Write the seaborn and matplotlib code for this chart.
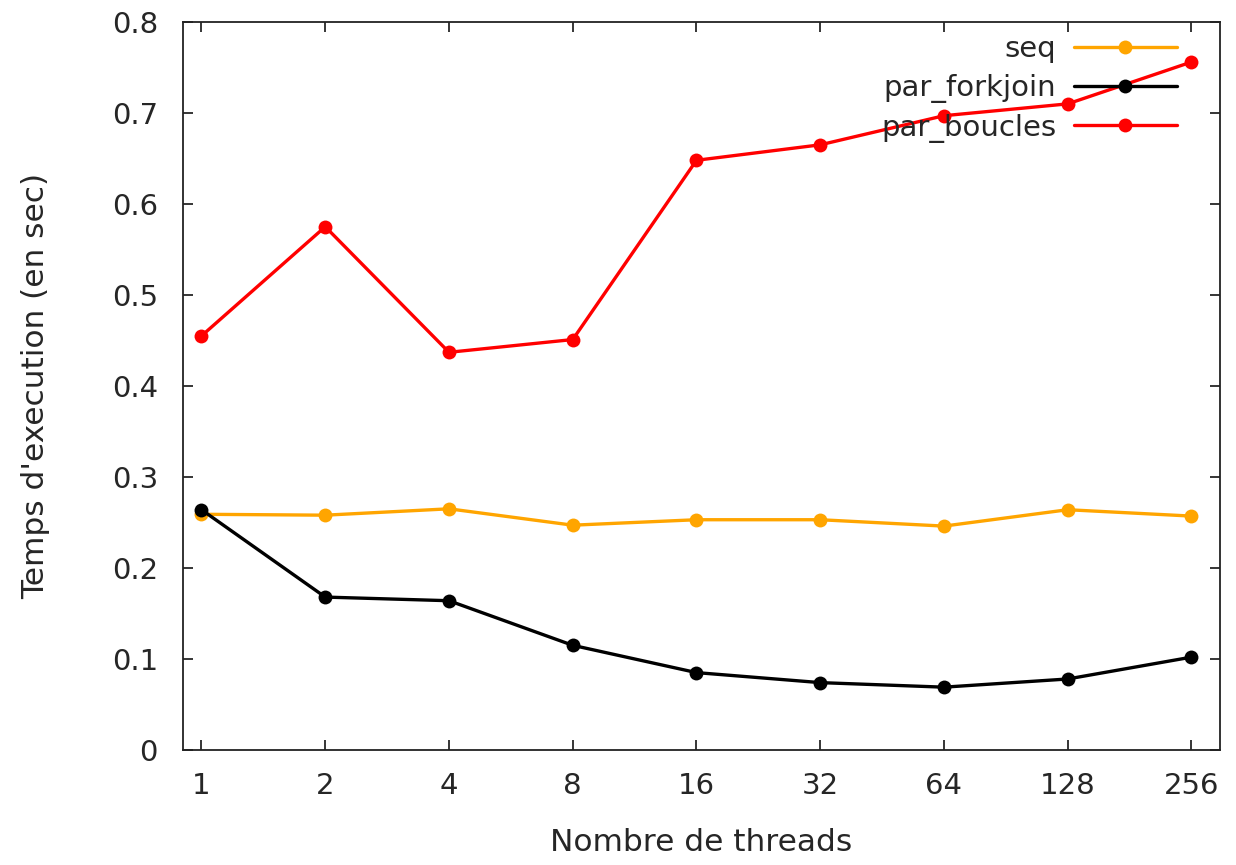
import pandas as pd
import matplotlib
matplotlib.use("Agg")
import matplotlib.pyplot as plt
import matplotlib.ticker as mticker
import seaborn as sns

# Data
threads = [1, 2, 4, 8, 16, 32, 64, 128, 256]
seq = [0.259, 0.258, 0.265, 0.247, 0.253, 0.253, 0.246, 0.264, 0.257]
par_forkjoin = [0.264, 0.168, 0.164, 0.115, 0.085, 0.074, 0.069, 0.078, 0.102]
par_boucles = [0.455, 0.575, 0.437, 0.451, 0.648, 0.665, 0.697, 0.710, 0.756]

series_names = ["seq", "par_forkjoin", "par_boucles"]
series_colors = {"seq": "#FFA500", "par_forkjoin": "#000000", "par_boucles": "#FF0000"}

sns.set_theme(style="ticks")
plt.rcParams['font.family'] = ['DejaVu Sans']

df = pd.DataFrame({
    "threads": threads * 3,
    "temps": seq + par_forkjoin + par_boucles,
    "serie": [n for n in series_names for _ in threads],
})

fs = 21
txt = "#262626"

fig = plt.figure(figsize=(12.36, 8.65), dpi=100)
ax = fig.add_axes([0.148, 0.133, 0.839, 0.8416])

sns.lineplot(data=df, x="threads", y="temps", hue="serie", hue_order=series_names,
             palette=series_colors, marker="o", markersize=10, markeredgewidth=0,
             linewidth=2.4, ax=ax)

ax.set_xscale("log", base=2)
ax.set_xlim(2 ** -0.15, 2 ** 8.23)
ax.set_ylim(0, 0.8)
ax.xaxis.set_major_locator(mticker.FixedLocator(threads))
ax.xaxis.set_major_formatter(mticker.FixedFormatter([str(t) for t in threads]))
ax.xaxis.set_minor_locator(mticker.NullLocator())
ax.yaxis.set_major_locator(mticker.MultipleLocator(0.1))
ax.yaxis.set_major_formatter(mticker.FormatStrFormatter("%g"))

ax.tick_params(direction="in", top=True, right=True, length=7, width=1.3,
               labelsize=fs, colors=txt)
ax.tick_params(axis="y", pad=18)
ax.tick_params(axis="x", pad=16)
for s in ax.spines.values():
    s.set_visible(True)
    s.set_linewidth(1.3)
    s.set_color("#222222")

ax.set_xlabel("Nombre de threads", fontsize=22.5, color=txt, labelpad=20)
ax.set_ylabel("Temps d'execution (en sec)", fontsize=22.5, color=txt, labelpad=44)

leg = ax.legend(loc="upper right", bbox_to_anchor=(0.97, 0.998), frameon=False,
                markerfirst=False, handlelength=3.55, fontsize=fs,
                labelspacing=0.37, handletextpad=0.6, borderaxespad=0)
for t in leg.get_texts():
    t.set_color(txt)
    t.set_ha("right")

fig.savefig("out.png", dpi=100)
